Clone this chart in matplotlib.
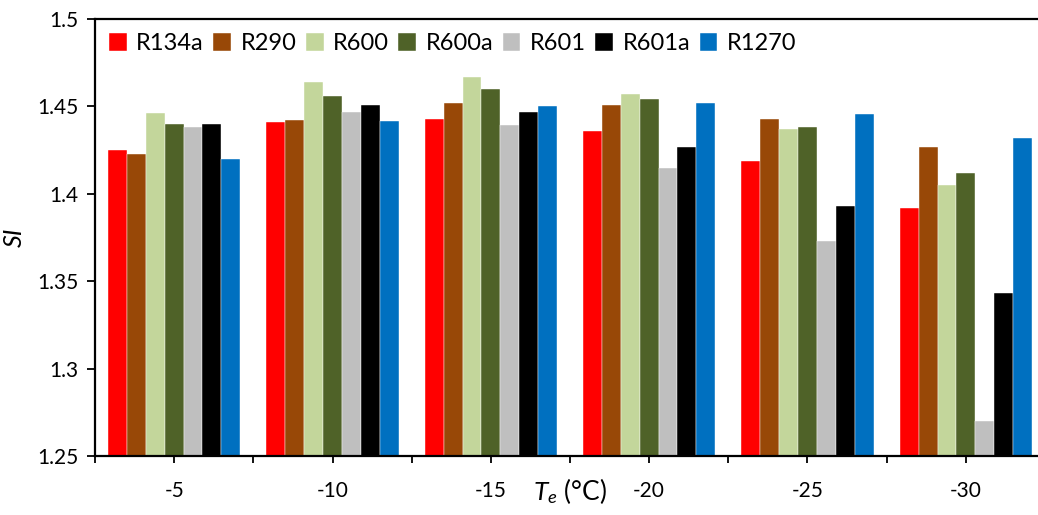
import numpy as np
import matplotlib
matplotlib.use("Agg")
import matplotlib.pyplot as plt
from matplotlib.ticker import FixedLocator

plt.rcParams['font.family'] = ['Lato', 'DejaVu Sans']
plt.rcParams['mathtext.fontset'] = 'custom'
plt.rcParams['mathtext.rm'] = 'Lato'
plt.rcParams['mathtext.it'] = 'Lato:italic'

temps = ['-5', '-10', '-15', '-20', '-25', '-30']
fluids = ['R134a', 'R290', 'R600', 'R600a', 'R601', 'R601a', 'R1270']
colors = ['#FF0000', '#984807', '#C3D69B', '#4F6228', '#BFBFBF', '#000000', '#0070C0']

r134a = [1.425, 1.441, 1.443, 1.436, 1.419, 1.392]
r290 = [1.423, 1.442, 1.452, 1.451, 1.443, 1.427]
r600 = [1.4465, 1.464, 1.467, 1.457, 1.437, 1.405]
r600a = [1.440, 1.456, 1.460, 1.4545, 1.438, 1.412]
r601 = [1.4385, 1.447, 1.4395, 1.415, 1.373, 1.270]
r601a = [1.440, 1.451, 1.447, 1.427, 1.393, 1.343]
r1270 = [1.420, 1.4415, 1.4505, 1.4517, 1.4458, 1.432]
series = [r134a, r290, r600, r600a, r601, r601a, r1270]

fig = plt.figure(figsize=(10.38, 5.15), dpi=100)
ax = fig.add_axes([95 / 1038, 1 - 456 / 515, 950 / 1038, 437 / 515])

x = np.arange(len(temps))
w = 0.835 / len(fluids)
for i, (name, vals) in enumerate(zip(fluids, series)):
    ax.bar(x - 0.835 / 2 + w * (i + 0.5), np.array(vals) - 1.25, w, bottom=1.25,
           color=colors[i], label=name, edgecolor='white', linewidth=0.3)

ax.set_xlim(-0.5, len(temps) - 0.5)
ax.set_ylim(1.25, 1.5)
ax.set_yticks([1.25, 1.3, 1.35, 1.4, 1.45, 1.5])
ax.set_yticklabels(['1.25', '1.3', '1.35', '1.4', '1.45', '1.5'])
ax.set_xticks(x)
ax.set_xticklabels(temps)
ax.xaxis.set_minor_locator(FixedLocator(np.arange(-0.5, len(temps), 1.0)))
ax.tick_params(axis='both', which='both', direction='out', labelsize=15, width=1.3)
ax.tick_params(axis='x', which='major', length=5, pad=13)
ax.tick_params(axis='x', which='minor', length=5)
ax.tick_params(axis='y', length=6, pad=6)

ax.spines['right'].set_visible(False)
for s in ['left', 'bottom', 'top']:
    ax.spines[s].set_linewidth(1.6)

ax.set_ylabel('SI', fontsize=18, style='italic', labelpad=8)
ax.set_xlabel('$T_e$ (°C)', fontsize=19)
ax.xaxis.set_label_coords(0.5, -0.045, transform=ax.transAxes)
ax.xaxis.label.set_va('top')

ax.legend(loc='upper left', bbox_to_anchor=(0.0, 1.0), ncol=7, frameon=False,
          fontsize=17, handlelength=0.75, handleheight=0.75, handletextpad=0.4,
          columnspacing=0.4, borderaxespad=0.4, borderpad=0.2)

fig.savefig('out.png', dpi=100)
